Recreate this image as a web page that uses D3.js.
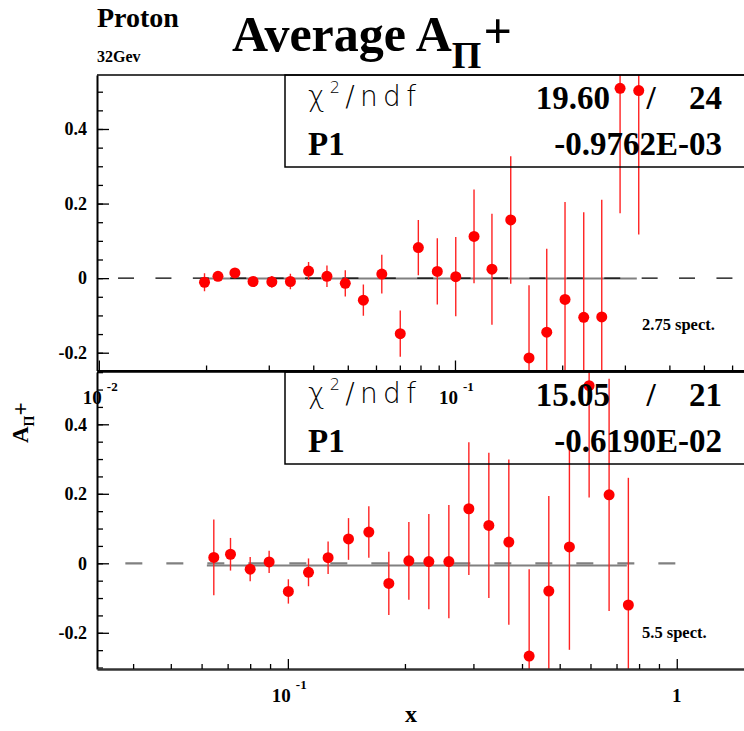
<!DOCTYPE html>
<html>
<head>
<meta charset="utf-8">
<script src="https://cdn.jsdelivr.net/npm/d3@7"></script>
<style>
body{margin:0;background:#fff}
svg{display:block}
</style>
</head>
<body>
<div id="chart"></div>
<script>
// upper pad : 2.75 spect.
var topX = [0.0198,0.0216,0.0241,0.0271,0.0306,0.0345,0.0388,0.0437,0.0492,0.0553,0.0623,0.0702,0.0789,
            0.0892,0.1005,0.1131,0.1270,0.1434,0.1614,0.1810,0.2037,0.2299,0.2583,0.2908,0.3281]
var topY = [-0.011,0.005,0.014,-0.009,-0.010,-0.009,0.019,0.005,-0.014,-0.059,0.011,-0.149,0.082,
            0.018,0.004,0.112,0.024,0.156,-0.214,-0.145,-0.057,-0.105,-0.104,0.509,0.503]
var topErr = [0.024,0.012,0.012,0.012,0.016,0.021,0.024,0.029,0.035,0.042,0.052,0.062,0.074,
              0.089,0.106,0.126,0.149,0.171,0.195,0.224,0.261,0.282,0.314,0.335,0.386]
var topXRange = [0.00988, 0.648]
var topYRange = [-0.2477, 0.5448]
var topFitRange = [0.0193, 0.324]
var topZeroRange = [0.01132, 0.75]
var topP1 = -0.0009762
var topChi2 = "19.60", topNdf = "24", topP1Text = "-0.9762E-03"

// lower pad : 5.5 spect.
var botX = [0.0645,0.0712,0.0800,0.0895,0.1003,0.1130,0.1269,0.1432,0.1615,0.1818,0.2047,
            0.2304,0.2594,0.2920,0.3287,0.3700,0.4173,0.4688,0.5296,0.5952,0.6699,0.7508]
var botY = [0.017,0.026,-0.017,0.004,-0.081,-0.026,0.016,0.070,0.090,-0.058,0.007,
            0.005,0.005,0.157,0.109,0.061,-0.267,-0.080,0.047,0.511,0.197,-0.120]
var botErr = [0.109,0.047,0.035,0.032,0.035,0.040,0.047,0.060,0.074,0.091,0.112,
              0.137,0.163,0.191,0.209,0.238,0.250,0.274,0.296,0.322,0.334,0.366]
var botXRange = [0.0323, 1.489]
var botYRange = [-0.3042, 0.5505]
var botFitRange = [0.0619, 0.744]
var botZeroRange = [0.0382, 1]
var botP1 = -0.00619
var botChi2 = "15.05", botNdf = "21", botP1Text = "-0.6190E-02"

var yTicks = [-0.2, 0, 0.2, 0.4]
var yTickLabels = ["-0.2", "0", "0.2", "0.4"]
var topXTicks = [0.01, 0.1]
var topXTickBase = ["10", "10"]
var topXTickExp = ["-2", "-1"]
var botXTicks = [0.1, 1]
var botXTickBase = ["10", "1"]
var botXTickExp = ["-1", ""]

var W = 744, H = 731
var serif = '"Liberation Serif","Times New Roman",serif'
var sans = '"DejaVu Sans",sans-serif'

var svg = d3.select('#chart').append('svg')
            .attr('width', W)
            .attr('height', H)

svg.append('text').attr('x', 97).attr('y', 27)
   .attr('font-family', serif).attr('font-weight', 'bold').attr('font-size', 28)
   .text('Proton')
svg.append('text').attr('x', 97).attr('y', 62)
   .attr('font-family', serif).attr('font-weight', 'bold').attr('font-size', 16)
   .text('32Gev')

var title = svg.append('text').attr('x', 232).attr('y', 51)
   .attr('font-family', serif).attr('font-weight', 'bold').attr('font-size', 50)
title.append('tspan').text('Average A')
title.append('tspan').attr('font-size', 38).attr('dy', 17).text('Π')
title.append('tspan').attr('dx', 2).attr('dy', -20).text('+')

// y title
var ytitle = svg.append('text')
   .attr('transform', 'translate(28,443) rotate(-90)')
   .attr('font-family', serif).attr('font-weight', 'bold').attr('font-size', 23)
ytitle.append('tspan').text('A')
ytitle.append('tspan').attr('font-size', 14).attr('dy', 6).text('Π')
ytitle.append('tspan').attr('dy', -6).text('+')

svg.append('text').attr('x', 411).attr('y', 722)
   .attr('font-family', serif).attr('font-weight', 'bold').attr('font-size', 24)
   .attr('text-anchor', 'middle')
   .text('x')

function minorLog(lo, hi){
  var out = []
  for (var dec = -3; dec <= 1; dec++){
    for (var k = 2; k <= 9; k++){
      var v = k * Math.pow(10, dec)
      if (v > lo && v < hi) out.push(v)
    }
  }
  return out
}

function drawPad(p){
  var g = svg.append('g')
  var x = d3.scaleLog().domain(p.xRange).range([p.left, p.right])
  var y = d3.scaleLinear().domain(p.yRange).range([p.bottom, p.top])

  svg.append('clipPath').attr('id', p.id + 'clip')
     .append('rect')
     .attr('x', p.left).attr('y', p.top)
     .attr('width', p.right - p.left).attr('height', p.bottom - p.top)

  var plot = g.append('g').attr('clip-path', 'url(#' + p.id + 'clip)')

  // fit
  plot.append('line')
      .attr('x1', x(p.fitRange[0])).attr('x2', x(p.fitRange[1]))
      .attr('y1', y(p.p1)).attr('y2', y(p.p1))
      .attr('stroke', '#808080').attr('stroke-width', 2)

  // zero line
  plot.append('line')
      .attr('x1', x(p.zeroRange[0])).attr('x2', x(p.zeroRange[1]))
      .attr('y1', y(0)).attr('y2', y(0))
      .attr('stroke', p.zeroColor).attr('stroke-width', p.zeroWidth)
      .attr('stroke-dasharray', p.dash)

  var pts = p.xs.map(function(d, i){ return {x: d, y: p.ys[i], e: p.errs[i]} })

  plot.selectAll('.err')
      .data(pts)
      .enter()
      .append('line')
      .attr('class', 'err')
      .attr('x1', function(d){ return x(d.x) })
      .attr('x2', function(d){ return x(d.x) })
      .attr('y1', function(d){ return y(d.y - d.e) })
      .attr('y2', function(d){ return y(d.y + d.e) })
      .attr('stroke', '#ff2222')
      .attr('stroke-width', 1.4)

  plot.selectAll('.pt')
      .data(pts)
      .enter()
      .append('circle')
      .attr('class', 'pt')
      .attr('cx', function(d){ return x(d.x) })
      .attr('cy', function(d){ return y(d.y) })
      .attr('r', 5.5)
      .attr('fill', '#ff0000')

  // frame top
  g.append('line')
   .attr('x1', p.left).attr('x2', p.right)
   .attr('y1', p.top).attr('y2', p.top)
   .attr('stroke', '#000').attr('stroke-width', 1.5)

  // y axis
  var ya = g.append('g')
    .attr('transform', 'translate(' + p.left + ',0)')
    .call(d3.axisLeft(y)
        .tickValues(yTicks)
        .tickSize(-12)
        .tickSizeOuter(0)
        .tickPadding(10)
        .tickFormat(function(d, i){ return yTickLabels[i] }))
  ya.attr('font-family', serif).attr('font-size', 18).attr('font-weight', 'bold')
  ya.select('.domain').attr('stroke-width', 2)
  ya.selectAll('.tick line').attr('stroke-width', 1.3)

  g.append('g')
    .attr('transform', 'translate(' + p.left + ',0)')
    .call(d3.axisLeft(y)
        .tickValues(d3.range(-0.3, 0.56, 0.05).filter(function(v){
          return v > p.yRange[0] && v < p.yRange[1] }))
        .tickSize(-6)
        .tickFormat(''))
    .call(function(s){ s.select('.domain').remove() })
    .selectAll('.tick line').attr('stroke-width', 1.3)

  // x axis
  var xa = g.append('g')
    .attr('transform', 'translate(0,' + p.bottom + ')')
    .call(d3.axisBottom(x)
        .tickValues(p.xTicks)
        .tickSize(-10)
        .tickSizeOuter(0)
        .tickFormat(''))
  xa.select('.domain').attr('stroke', p.axisColor).attr('stroke-width', p.axisWidth)
  xa.selectAll('.tick line').attr('stroke-width', 1.3)

  g.append('g')
    .attr('transform', 'translate(0,' + p.bottom + ')')
    .call(d3.axisBottom(x)
        .tickValues(minorLog(p.xRange[0], p.xRange[1]))
        .tickSize(-5)
        .tickFormat(''))
    .call(function(s){ s.select('.domain').remove() })
    .selectAll('.tick line').attr('stroke-width', 1.3)

  p.xTicks.forEach(function(v, i){
    var lab = svg.append('g')
      .attr('font-family', serif).attr('font-weight', 'bold')
    if (p.xExp[i] == ""){
      lab.append('text').attr('x', x(v)).attr('y', p.bottom + 33)
         .attr('font-size', 19).attr('text-anchor', 'middle')
         .text(p.xBase[i])
    } else {
      lab.append('text').attr('x', x(v) + 3).attr('y', p.bottom + 33)
         .attr('font-size', 19).attr('text-anchor', 'end')
         .text(p.xBase[i])
      lab.append('text').attr('x', x(v) + 8).attr('y', p.bottom + 20)
         .attr('font-size', 13)
         .text(p.xExp[i])
    }
  })

  // stats box
  var bt = p.top
  g.append('rect')
   .attr('x', 285).attr('y', bt)
   .attr('width', 500).attr('height', 92)
   .attr('fill', 'none').attr('stroke', '#000').attr('stroke-width', 1.5)

  var chi = g.append('text')
    .attr('x', 308).attr('y', bt + 31)
    .attr('font-family', sans).attr('font-weight', 200).attr('font-size', 28)
    .attr('textLength', 108).attr('lengthAdjust', 'spacing')
  chi.append('tspan').text('χ')
  chi.append('tspan').attr('font-size', 16).attr('dy', -13).text('2')
  chi.append('tspan').attr('dy', 13).text('/ndf')

  var st = g.append('g').attr('font-family', serif).attr('font-weight', 'bold').attr('font-size', 33)
  st.append('text').attr('x', 610).attr('y', bt + 34).attr('text-anchor', 'end').text(p.chi2)
  st.append('text').attr('x', 651).attr('y', bt + 34).attr('text-anchor', 'middle').text('/')
  st.append('text').attr('x', 722).attr('y', bt + 34).attr('text-anchor', 'end').text(p.ndf)
  st.append('text').attr('x', 308).attr('y', bt + 80).text('P1')
  st.append('text').attr('x', 722).attr('y', bt + 80).attr('text-anchor', 'end').text(p.p1Text)

  g.append('text')
   .attr('x', 642).attr('y', p.specY)
   .attr('font-family', serif).attr('font-weight', 'bold').attr('font-size', 16.5)
   .text(p.spec)
}

drawPad({
  id: 'top', left: 97, right: 744, top: 75, bottom: 370.5,
  xRange: topXRange, yRange: topYRange,
  xs: topX, ys: topY, errs: topErr,
  fitRange: topFitRange, zeroRange: topZeroRange, p1: topP1,
  zeroColor: '#000', zeroWidth: 1.4, dash: '16,21.4',
  axisColor: '#000', axisWidth: 2,
  xTicks: topXTicks, xBase: topXTickBase, xExp: topXTickExp,
  chi2: topChi2, ndf: topNdf, p1Text: topP1Text,
  spec: '2.75 spect.', specY: 330
})

drawPad({
  id: 'bot', left: 97, right: 744, top: 372, bottom: 669,
  xRange: botXRange, yRange: botYRange,
  xs: botX, ys: botY, errs: botErr,
  fitRange: botFitRange, zeroRange: botZeroRange, p1: botP1,
  zeroColor: '#808080', zeroWidth: 2.2, dash: '17,24',
  axisColor: '#333', axisWidth: 2.6,
  xTicks: botXTicks, xBase: botXTickBase, xExp: botXTickExp,
  chi2: botChi2, ndf: botNdf, p1Text: botP1Text,
  spec: '5.5 spect.', specY: 638
})
</script>
</body>
</html>
